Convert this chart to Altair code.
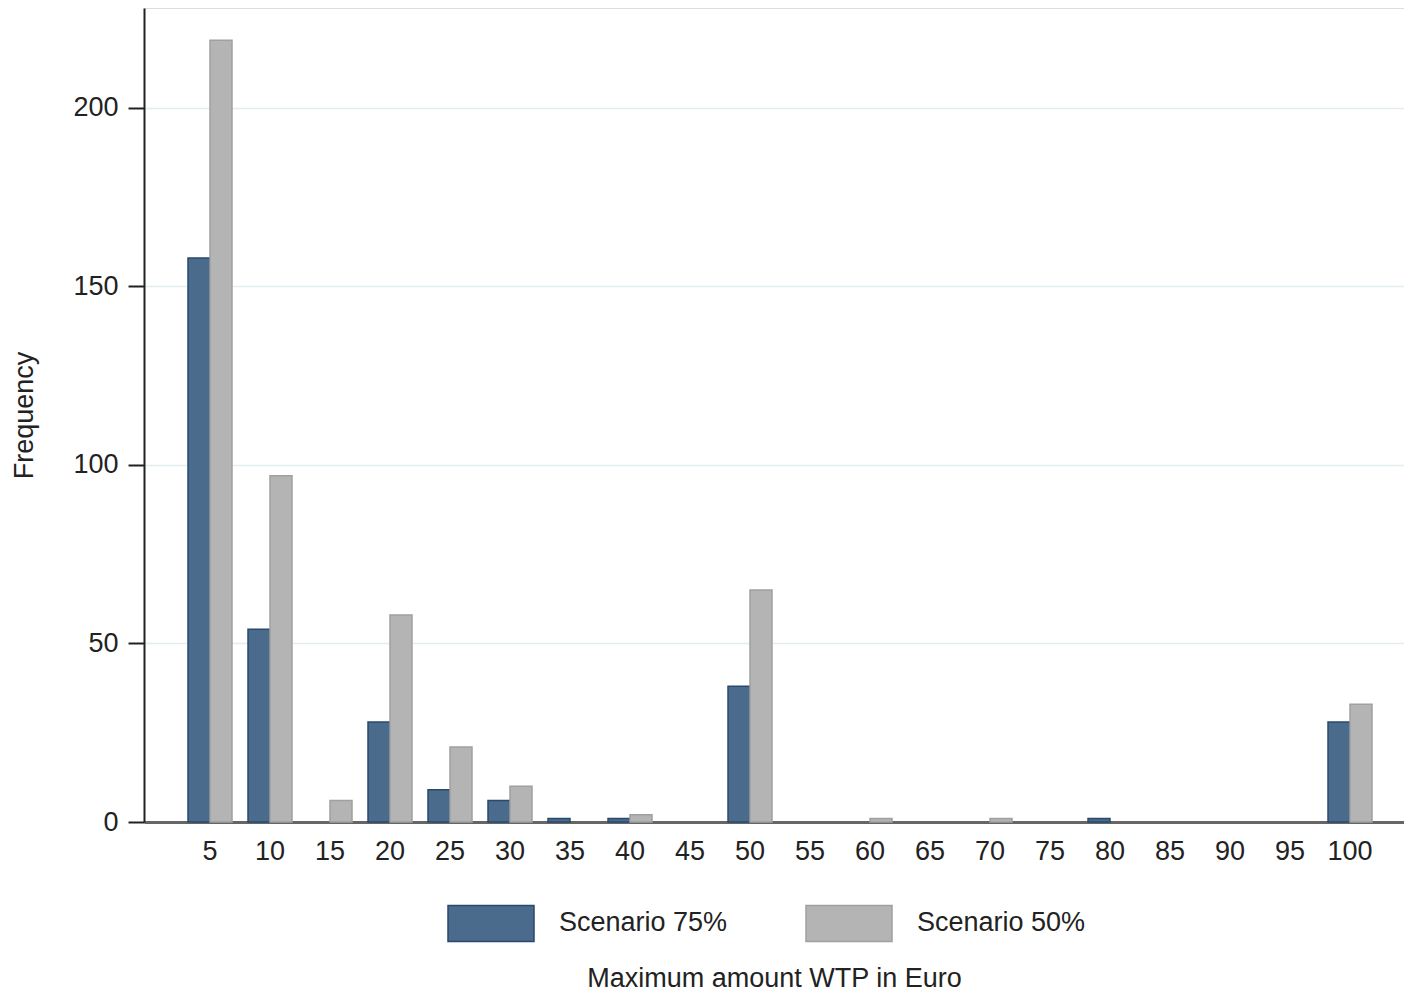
import altair as alt
import pandas as pd

wtp = [5, 10, 15, 20, 25, 30, 35, 40, 45, 50, 55, 60, 65, 70, 75, 80, 85, 90, 95, 100]
s75 = [158, 54, 0, 28, 9, 6, 1, 1, 0, 38, 0, 0, 0, 0, 0, 1, 0, 0, 0, 28]
s50 = [219, 97, 6, 58, 21, 10, 0, 2, 0, 65, 0, 1, 0, 1, 0, 0, 0, 0, 0, 33]
series = ["Scenario 75%", "Scenario 50%"]
fills = ["#4a6b8c", "#b4b4b4"]
strokes = ["#2a4a6c", "#a0a0a0"]
y_ticks = [0, 50, 100, 150, 200]

cats = [str(w) for w in wtp]
rows = []
for w, a, b in zip(cats, s75, s50):
    rows.append({"wtp": w, "series": series[0], "freq": a})
    rows.append({"wtp": w, "series": series[1], "freq": b})
df = pd.DataFrame(rows)
df = df[df["freq"] > 0]

font = "Liberation Sans"
fs = 27
txt = "#222222"

legend_kw = dict(
    title=None, orient="none", legendX=303, legendY=871, direction="horizontal",
    columns=2, symbolType="M-1,-0.42L1,-0.42L1,0.42L-1,0.42Z", symbolSize=7396,
    symbolStrokeWidth=1.5, labelFont=font, labelFontSize=fs, labelColor=txt,
    labelOffset=24, columnPadding=75, padding=0, symbolOpacity=1, labelLimit=0,
)

chart = alt.Chart(df).mark_bar(strokeWidth=1.5).encode(
    x=alt.X(
        "wtp:N", sort=cats,
        scale=alt.Scale(domain=cats, paddingInner=0.2667, paddingOuter=0.6333, align=0.579),
        axis=alt.Axis(
            title="Maximum amount WTP in Euro", labelAngle=0, ticks=False,
            domainColor="#666666", domainWidth=3, labelPadding=16, titlePadding=101,
            labelFont=font, titleFont=font, labelFontSize=fs, titleFontSize=fs,
            titleFontWeight="normal", labelColor=txt, titleColor=txt, grid=False,
        ),
    ),
    xOffset=alt.XOffset("series:N", sort=series,
                        scale=alt.Scale(domain=series, paddingInner=0, paddingOuter=0)),
    y=alt.Y(
        "freq:Q", scale=alt.Scale(domain=[0, 228], nice=False),
        axis=alt.Axis(
            values=y_ticks, title="Frequency", tickSize=16, tickColor="#222222",
            tickWidth=2, domainColor="#222222", domainWidth=2, labelPadding=10,
            titlePadding=34, labelFont=font, titleFont=font, labelFontSize=fs,
            titleFontSize=fs, titleFontWeight="normal", labelColor=txt,
            titleColor=txt, gridColor="#e3edf1", gridWidth=1.5,
        ),
    ),
    color=alt.Color("series:N", sort=series,
                    scale=alt.Scale(domain=series, range=fills),
                    legend=alt.Legend(**legend_kw)),
    stroke=alt.Stroke("series:N", sort=series,
                      scale=alt.Scale(domain=series, range=strokes),
                      legend=alt.Legend(**legend_kw)),
).properties(
    width=1260, height=814,
    autosize=alt.AutoSizeParams(type="none"),
    padding={"left": 136, "top": 0, "right": 0, "bottom": 170},
).configure_view(stroke=None).configure(background="white")

chart.save("out.html", embed_options={"renderer": "svg", "actions": False})
